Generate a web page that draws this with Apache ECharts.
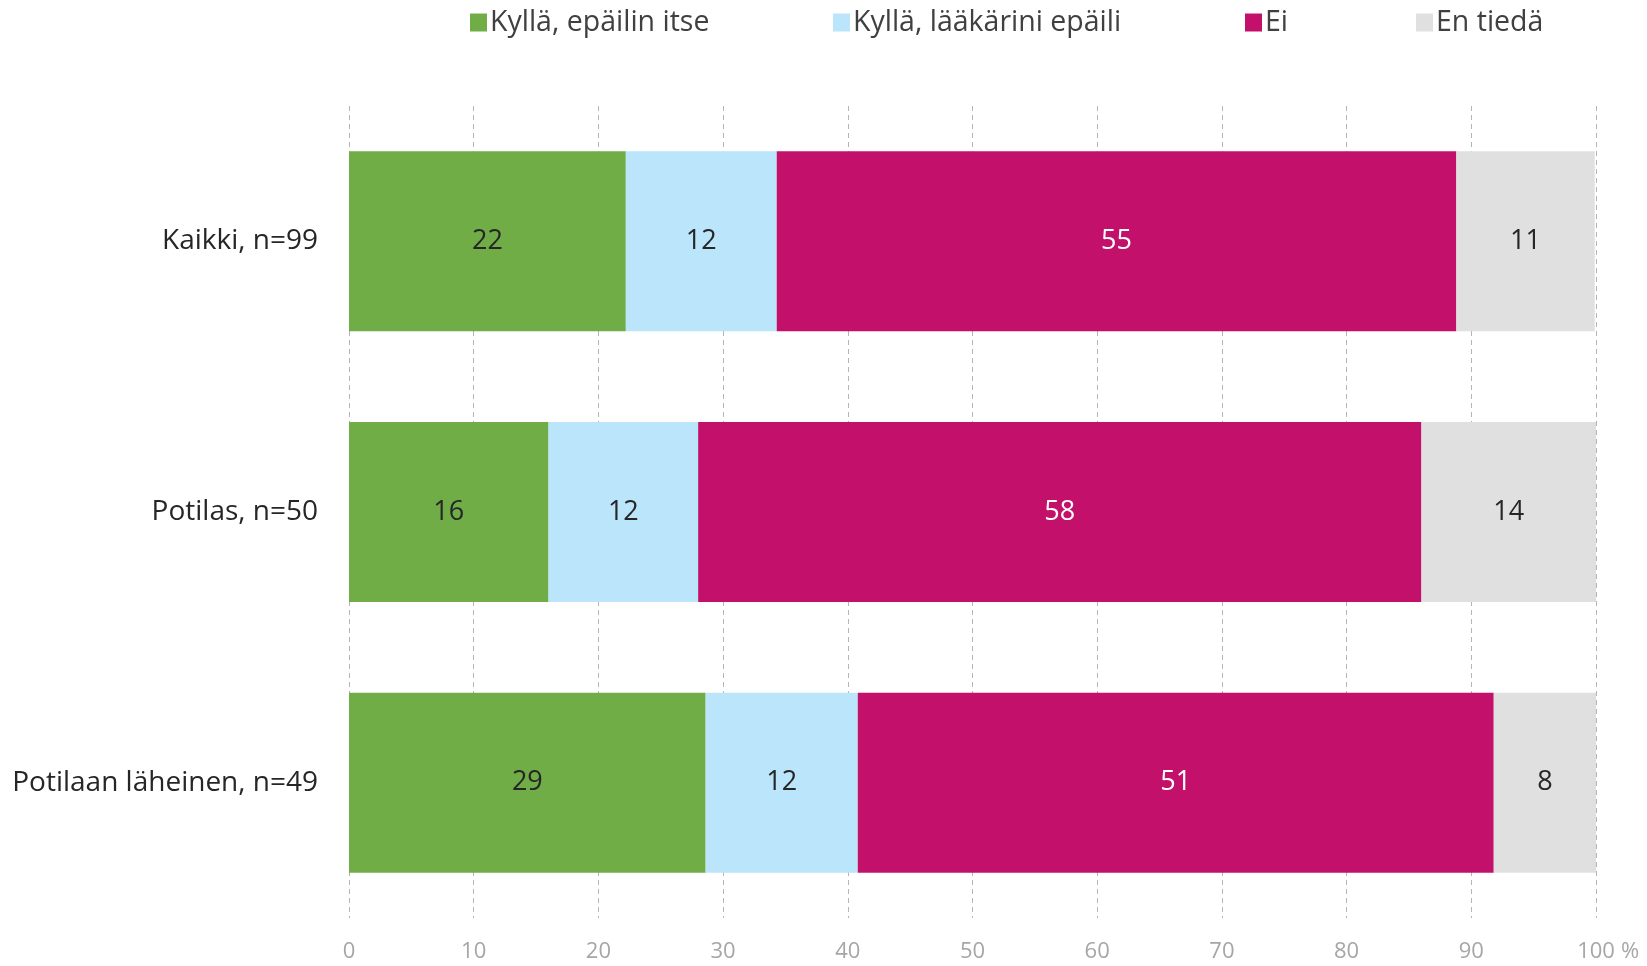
<!DOCTYPE html>
<html>
<head>
<meta charset="utf-8">
<script src="https://cdn.jsdelivr.net/npm/echarts@6.0.0/dist/echarts.min.js"></script>
<style>
    html, body { margin: 0; padding: 0; background: #ffffff; }
    #chart { width: 1647px; height: 966px; }
</style>
</head>
<body>
<div id="chart"></div>
<script>
const categories = ["Kaikki, n=99", "Potilas, n=50", "Potilaan läheinen, n=49"];
const seriesNames = ["Kyllä, epäilin itse", "Kyllä, lääkärini epäili", "Ei", "En tiedä"];
const suspectedSelf = [22.2, 16.0, 28.6];
const suspectedDoctor = [12.1, 12.0, 12.2];
const no = [54.5, 58.0, 51.0];
const dontKnow = [11.1, 14.0, 8.2];
const xTicks = [0, 10, 20, 30, 40, 50, 60, 70, 80, 90, 100];

const colors = ["#70ad47", "#bae5fb", "#c2106b", "#e0e0e0"];
const labelColors = ["#262626", "#262626", "#ffffff", "#262626"];
const legendLeft = [470, 833, 1245, 1416];
const fontFamily = "'Open Sans', 'Noto Sans', sans-serif";

const values = [suspectedSelf, suspectedDoctor, no, dontKnow];

const chart = echarts.init(document.getElementById("chart"), null, { renderer: "canvas" });

const option = {
    animation: false,
    textStyle: { fontFamily: fontFamily },
    legend: seriesNames.map((name, i) => ({
        data: [name],
        left: legendLeft[i],
        top: 8,
        padding: 0,
        icon: "rect",
        itemWidth: 17,
        itemHeight: 18,
        itemGap: 0,
        selectedMode: false,
        textStyle: { fontSize: 28.5, color: "#404040", fontFamily: fontFamily, padding: [0, 0, 0, -2] },
    })),
    grid: {
        left: 349,
        right: 51,
        top: 106,
        bottom: 48,
        containLabel: false,
        outerBoundsMode: "none",
    },
    xAxis: {
        type: "value",
        min: 0,
        max: 100,
        interval: 10,
        axisLine: { show: false },
        axisTick: { show: false },
        splitLine: { show: true, lineStyle: { type: [5, 4], color: "#b4b4b4", width: 1 } },
        axisLabel: {
            color: "#a6a6a6",
            fontSize: 22,
            margin: 23,
            formatter: (v) => xTicks.includes(v) ? String(v) : "",
        },
        name: "%",
        nameLocation: "end",
        nameGap: 25,
        nameTextStyle: { color: "#a6a6a6", fontSize: 22, verticalAlign: "top", padding: [23, 0, 0, 0] },
    },
    yAxis: {
        type: "category",
        data: categories,
        inverse: true,
        axisLine: { show: false },
        axisTick: { show: false },
        splitLine: { show: false },
        axisLabel: { color: "#262626", fontSize: 28, margin: 31 },
    },
    series: seriesNames.map((name, i) => ({
        name: name,
        type: "bar",
        stack: "total",
        barWidth: 180,
        data: values[i],
        itemStyle: { color: colors[i] },
        label: {
            show: true,
            position: "inside",
            color: labelColors[i],
            fontSize: 27,
            fontFamily: fontFamily,
            formatter: (p) => Math.round(p.value).toString(),
        },
    })),
};

chart.setOption(option);
</script>
</body>
</html>
